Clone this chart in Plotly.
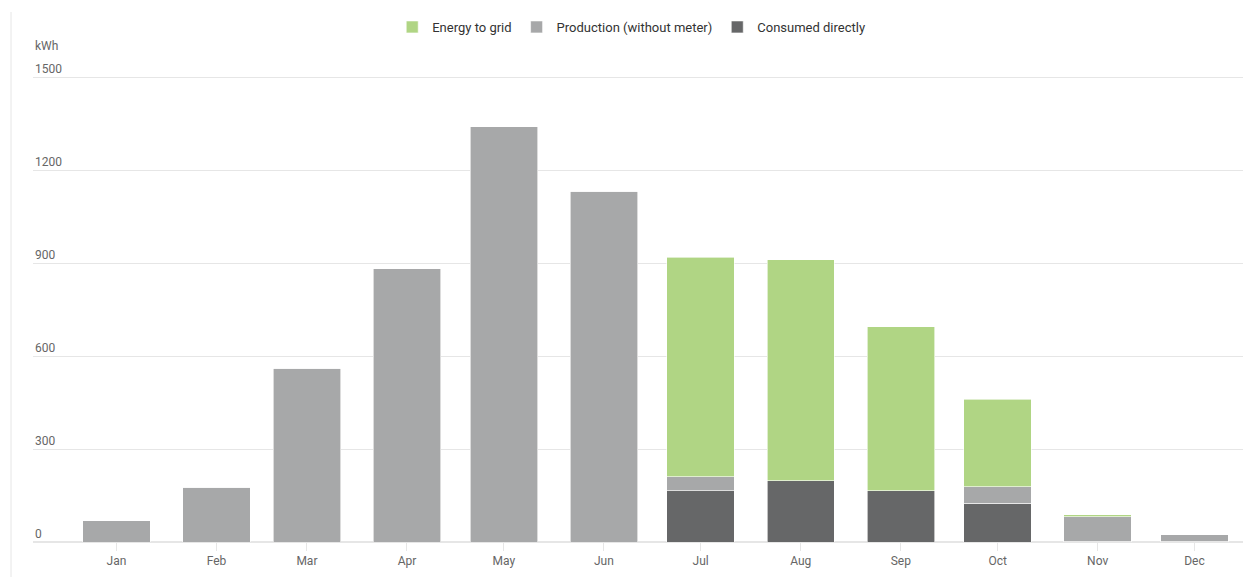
import pandas as pd
import plotly.graph_objects as go

year = 2023
months = ["Jan", "Feb", "Mar", "Apr", "May", "Jun", "Jul", "Aug", "Sep", "Oct", "Nov", "Dec"]
consumed_directly = [0, 0, 0, 0, 0, 0, 166, 197, 166, 125, 3, 3]
production_without_meter = [69, 176, 560, 882, 1340, 1131, 45, 0, 0, 54, 79, 21]
energy_to_grid = [0, 0, 0, 0, 0, 0, 707, 713, 529, 281, 6, 0]
y_ticks = [0, 300, 600, 900, 1200, 1500]

GREEN = "#b0d584"
GRAY = "#a7a8a9"
DARK = "#666768"
GRID = "#e6e6e6"
FONT = "Roboto, Arial, sans-serif"

# one bar per month, placed on the first day of the month (time axis)
month_starts = [pd.Timestamp(f"{year}-{m}-01") for m in months]
DAY_MS = 86400000
bar_width = 20.9 * DAY_MS
x_start = month_starts[0] - pd.Timedelta(days=25.87)
x_end = month_starts[-1] + pd.Timedelta(days=15.03)

# vertical scale: 0.31 px per kWh, with a little headroom above the top grid line
TOP_MARGIN = 73
BOTTOM_MARGIN = 35
plot_h = 577 - TOP_MARGIN - BOTTOM_MARGIN
y_max = plot_h / 0.31

fig = go.Figure()
# stacked from the bottom up; legend lists them in reverse
for name, vals, col in [
    ("Consumed directly", consumed_directly, DARK),
    ("Production (without meter)", production_without_meter, GRAY),
    ("Energy to grid", energy_to_grid, GREEN),
]:
    fig.add_bar(x=month_starts, y=vals, name=name, width=[bar_width] * len(vals),
                marker=dict(color=col, line=dict(color="white", width=0.6)))

fig.update_layout(
    width=1245, height=577,
    barmode="stack",
    plot_bgcolor="white", paper_bgcolor="white",
    margin=dict(l=33, r=2, t=TOP_MARGIN, b=BOTTOM_MARGIN),
    font=dict(family=FONT, size=12, color="#666666"),
    legend=dict(orientation="h", traceorder="reversed",
                xref="container", yref="container",
                x=0.507, xanchor="center", y=1 - 27 / 577, yanchor="middle",
                font=dict(family=FONT, size=13, color="#333333"),
                itemclick=False, itemdoubleclick=False),
    hovermode=False,
    showlegend=True,
)

fig.update_xaxes(
    type="date",
    range=[x_start, x_end],
    tickvals=month_starts, ticktext=months,
    showgrid=False, zeroline=False, showline=False,
    ticks="outside", ticklen=8, tickcolor=GRID, tickwidth=1,
    tickfont=dict(family=FONT, size=12, color="#666666"),
)
fig.update_yaxes(
    range=[0, y_max], tickvals=y_ticks,
    showgrid=True, gridcolor=GRID, gridwidth=1, zeroline=True, zerolinecolor=GRID,
    showline=False, showticklabels=False,
)

# y tick labels sit just above their grid lines, flush with the left edge
for v in y_ticks:
    fig.add_annotation(text=str(v), xref="paper", yref="y", x=0, y=v, yshift=8,
                       xanchor="left", yanchor="middle", showarrow=False,
                       font=dict(family=FONT, size=12, color="#666666"))

fig.add_annotation(text="kWh", xref="paper", yref="y", x=0, y=1500, yshift=31,
                   xanchor="left", yanchor="middle", showarrow=False,
                   font=dict(family=FONT, size=12, color="#666666"))

# thin frame line down the left side of the chart container
fig.add_shape(type="line", xref="paper", yref="paper",
              x0=-22 / 1210, x1=-22 / 1210, y0=-BOTTOM_MARGIN / plot_h, y1=1 + 61 / plot_h,
              line=dict(color=GRID, width=1))

fig.write_html("out.html")
